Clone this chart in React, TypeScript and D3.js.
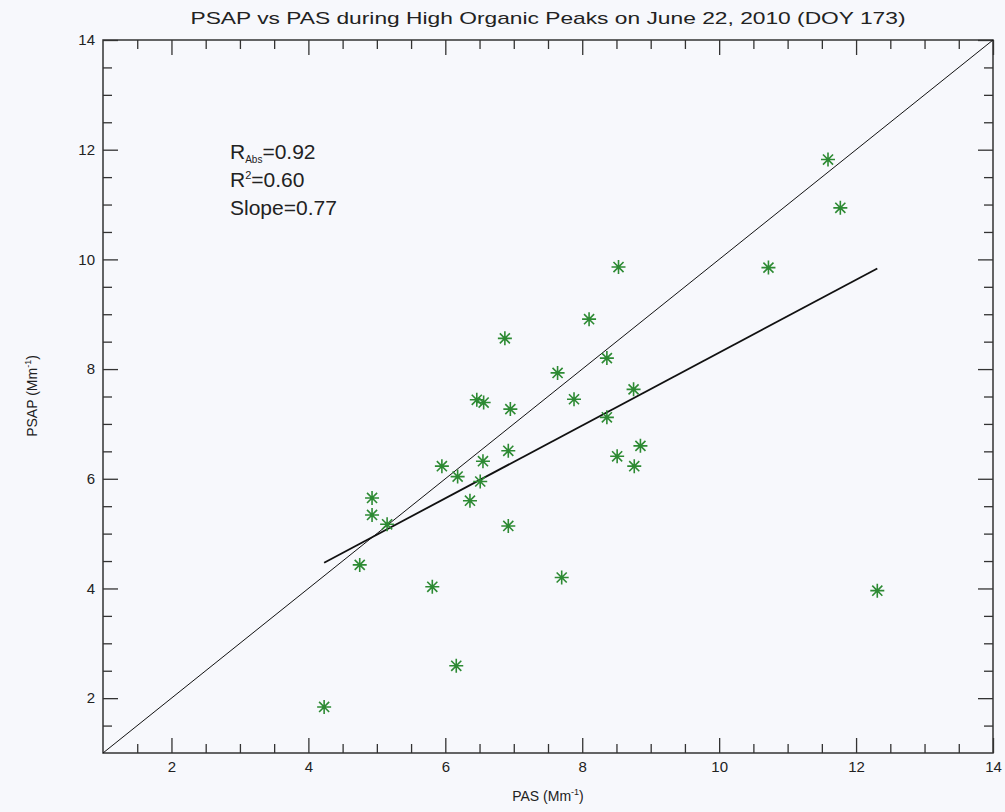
import React, { useEffect, useRef } from 'react';
import * as d3 from 'd3';

// PAS (x) and PSAP (y) absorption, Mm^-1
const pasValues = [4.23, 4.75, 4.93, 4.93, 5.15, 5.81, 5.95, 6.16, 6.18, 6.36, 6.46, 6.56, 6.55, 6.51, 6.87, 6.92, 6.95, 6.92, 7.64, 7.7, 7.88, 8.1, 8.36, 8.36, 8.53, 8.51, 8.75, 8.76, 8.85, 10.72, 11.59, 11.77, 12.31];
const psapValues = [1.84, 4.43, 5.65, 5.34, 5.17, 4.03, 6.23, 2.59, 6.04, 5.6, 7.44, 7.39, 6.32, 5.95, 8.56, 6.51, 7.27, 5.14, 7.93, 4.2, 7.45, 8.91, 8.2, 7.12, 9.86, 6.41, 7.63, 6.23, 6.6, 9.85, 11.82, 10.94, 3.96];
const majorTicks = [2, 4, 6, 8, 10, 12, 14];
const minorTicks = [1.5, 2.5, 3, 3.5, 4.5, 5, 5.5, 6.5, 7, 7.5, 8.5, 9, 9.5, 10.5, 11, 11.5, 12.5, 13, 13.5];
const axisDomain = [1, 14];
const fitSlope = 0.664;
const fitIntercept = 1.66;
const statNames = ['R', 'R', 'Slope'];
const statSubs = ['Abs', '', ''];
const statSups = ['', '2', ''];
const statValues = ['0.92', '0.60', '0.77'];

const W = 1005;
const H = 812;
const left = 103, right = 993, top = 40, bottom = 753;
const font = 'Liberation Sans, Arial, sans-serif';
const green = '#2d8a33';

const App = () => {
  const ref = useRef(null);
  const x = d3.scaleLinear().domain(axisDomain).range([left, right]);
  const y = d3.scaleLinear().domain(axisDomain).range([bottom, top]);

  useEffect(() => {
    const g = d3.select(ref.current);
    g.selectAll('*').remove();

    const fmt = d3.format('d');
    const styleAxis = (sel, showText) => {
      sel.select('.domain').remove();
      sel.selectAll('line').attr('stroke', '#333').attr('stroke-width', 1.3);
      sel.selectAll('text')
        .attr('fill', '#222')
        .style('font-family', font)
        .style('font-size', '15px')
        .style('display', showText ? null : 'none');
    };

    const axes = [
      { ax: d3.axisBottom(x), tr: `translate(0,${bottom})`, text: true },
      { ax: d3.axisTop(x), tr: `translate(0,${top})`, text: false },
      { ax: d3.axisLeft(y), tr: `translate(${left},0)`, text: true },
      { ax: d3.axisRight(y), tr: `translate(${right},0)`, text: false },
    ];
    axes.forEach(({ ax, tr, text }) => {
      // major ticks, drawn inward
      g.append('g').attr('transform', tr)
        .call(ax.tickValues(majorTicks).tickSize(-15).tickPadding(text ? 8 : 0).tickFormat(fmt))
        .call(s => styleAxis(s, text));
      g.append('g').attr('transform', tr)
        .call(ax.tickValues(minorTicks).tickSize(-9).tickFormat(() => ''))
        .call(s => styleAxis(s, false));
    });

    // frame
    g.append('rect')
      .attr('x', left).attr('y', top)
      .attr('width', right - left).attr('height', bottom - top)
      .attr('fill', 'none').attr('stroke', '#333').attr('stroke-width', 1.5);

    // 1:1 line
    const line = d3.line().x(d => x(d[0])).y(d => y(d[1]));
    g.append('path')
      .attr('d', line([[axisDomain[0], axisDomain[0]], [axisDomain[1], axisDomain[1]]]))
      .attr('stroke', '#111').attr('stroke-width', 1).attr('fill', 'none');

    // fit line over the data range
    const [xMin, xMax] = d3.extent(pasValues);
    g.append('path')
      .attr('d', line([xMin, xMax].map(v => [v, fitIntercept + fitSlope * v])))
      .attr('stroke', '#111').attr('stroke-width', 1.8).attr('fill', 'none');

    // asterisk markers
    const r = 7;
    const star = `M${-r},0L${r},0M0,${-r}L0,${r}M${-r * 0.72},${-r * 0.72}L${r * 0.72},${r * 0.72}M${-r * 0.72},${r * 0.72}L${r * 0.72},${-r * 0.72}`;
    g.selectAll('path.pt')
      .data(pasValues.map((v, i) => [v, psapValues[i]]))
      .enter().append('path')
      .attr('class', 'pt')
      .attr('transform', d => `translate(${x(d[0])},${y(d[1])})`)
      .attr('d', star)
      .attr('stroke', green).attr('stroke-width', 1.6).attr('fill', 'none');
  }, []);

  return (
    <div style={{ position: 'fixed', left: 0, top: 0 }}>
      <svg width={W} height={H} style={{ display: 'block' }}>
        <rect width={W} height={H} fill="#f7f8fc" />
        <g ref={ref} />
        <text x={548} y={24} textAnchor="middle" fontFamily={font} fontSize={17} fill="#222"
          textLength={715} lengthAdjust="spacingAndGlyphs">
          PSAP vs PAS during High Organic Peaks on June 22, 2010 (DOY 173)
        </text>
        <text x={548} y={801} textAnchor="middle" fontFamily={font} fontSize={14} fill="#222">
          PAS (Mm<tspan dy={-6} fontSize={9}>-1</tspan><tspan dy={6}>)</tspan>
        </text>
        <text transform="translate(37,396) rotate(-90)" textAnchor="middle" fontFamily={font} fontSize={14} fill="#222">
          PSAP (Mm<tspan dy={-6} fontSize={9}>-1</tspan><tspan dy={6}>)</tspan>
        </text>
        {statNames.map((n, i) => (
          <text key={i} x={230} y={159 + i * 28} fontFamily={font} fontSize={21} fill="#222">
            {n}
            {statSubs[i] && <tspan dy={4} fontSize={10}>{statSubs[i]}</tspan>}
            {statSubs[i] && <tspan dy={-4}>=</tspan>}
            {statSups[i] && <tspan dy={-8} fontSize={11}>{statSups[i]}</tspan>}
            {statSups[i] && <tspan dy={8}>=</tspan>}
            {!statSubs[i] && !statSups[i] && '='}
            {statValues[i]}
          </text>
        ))}
      </svg>
    </div>
  );
};

export default App;
